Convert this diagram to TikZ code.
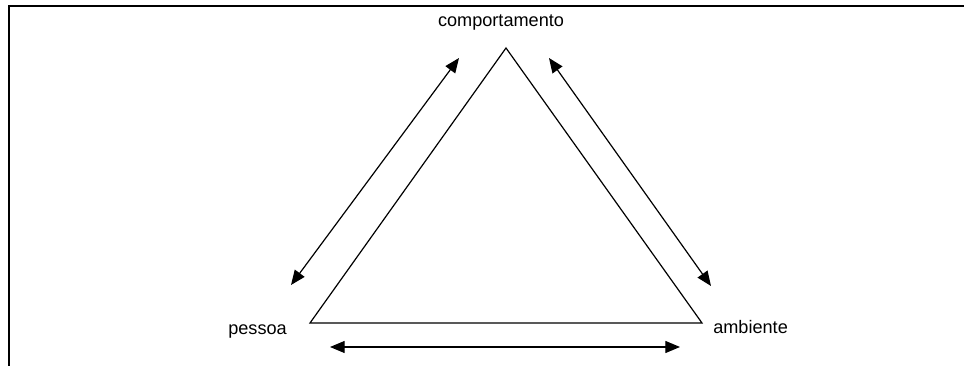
\documentclass[tikz,border=0pt]{standalone}
\usepackage{fontspec}
\setmainfont{Liberation Sans}
\usetikzlibrary{arrows.meta}
\begin{document}
\begin{tikzpicture}[x=0.75pt,y=-0.75pt,
  lbl/.style={font=\fontsize{13.6pt}{16pt}\selectfont, inner sep=0pt},
  dbl/.style={line width=0.9pt, {Triangle[length=11pt,width=9pt]}-{Triangle[length=11pt,width=9pt]}},
  frame/.style={line width=1.5pt},
  tri/.style={line width=0.9pt, line join=miter}]
\useasboundingbox (0,0) rectangle (964,366);
% frame (top and left only)
\coordinate (fl) at (8.5,366);
\coordinate (ftl) at (8.5,6);
\coordinate (fr) at (964,6);
\draw[frame] (fl) -- (ftl) -- (fr);
% triangle
\coordinate (top) at (506,48);
\coordinate (bl) at (310,323);
\coordinate (br) at (702,323);
\draw[tri] (top) -- (br) -- (bl) -- cycle;
% labels
\node[lbl, anchor=base] (comp) at (501,27) {comportamento};
\node[lbl, anchor=base west] (pes) at (228,335) {pessoa};
\node[lbl, anchor=base west] (amb) at (713,334) {ambiente};
% arrows
\coordinate (a1) at (291,285);
\coordinate (a2) at (459,58);
\coordinate (b1) at (549,58);
\coordinate (b2) at (711,286);
\coordinate (c1) at (330,347);
\coordinate (c2) at (680,347);
\draw[dbl] (a1) -- (a2);
\draw[dbl] (b1) -- (b2);
\draw[dbl] (c1) -- (c2);
\end{tikzpicture}
\end{document}
